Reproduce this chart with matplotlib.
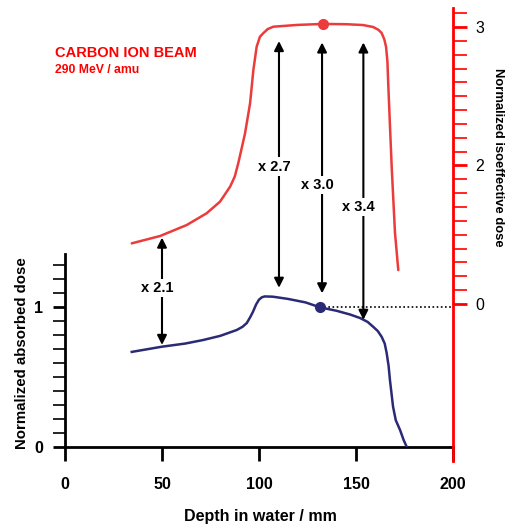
import numpy as np
import matplotlib
matplotlib.use('Agg')
import matplotlib.pyplot as plt
from matplotlib.ticker import FixedLocator

plt.rcParams['font.family'] = ['Liberation Sans', 'DejaVu Sans']

# absorbed dose (left axis)
depth_abs = [34.4, 49.8, 62.0, 71.1, 80.0, 88.5, 91.5, 93.7, 95.5, 96.9, 98.5, 100.0,
             101.5, 103.0, 107.2, 115.0, 124.0, 131.4, 140.0, 147.0, 152.1, 156.0,
             158.8, 161.2, 163.2, 164.8, 165.8, 166.8, 167.5, 169.1, 170.5, 172.7,
             174.5, 176.1]
dose_abs = [0.68, 0.717, 0.74, 0.765, 0.795, 0.837, 0.86, 0.887, 0.93, 0.968, 1.02, 1.055,
            1.072, 1.078, 1.076, 1.06, 1.035, 1.0, 0.975, 0.948, 0.923, 0.895,
            0.861, 0.83, 0.789, 0.74, 0.672, 0.58, 0.478, 0.287, 0.19, 0.12,
            0.05, 0.0]

# isoeffective dose (right axis, tick "0" sits at position 1)
depth_iso = [34.4, 49.0, 62.7, 73.0, 79.9, 85.1, 87.5, 89.3, 91.0, 92.8, 95.4, 97.1,
             98.8, 100.5, 102.2, 104.5, 107.4, 120.0, 133.0, 145.0, 153.6, 158.8,
             161.5, 163.2, 164.6, 165.5, 166.2, 166.6, 167.5, 168.4, 170.1, 171.8]
dose_iso = [1.438, 1.491, 1.570, 1.655, 1.739, 1.847, 1.92, 2.016, 2.12, 2.232, 2.449, 2.690,
            2.858, 2.93, 2.955, 2.985, 3.002, 3.015, 3.022, 3.02, 3.014, 3.0,
            2.98, 2.957, 2.91, 2.856, 2.75, 2.596, 2.29, 1.989, 1.513, 1.245]

# ratio arrows (left axis units)
arrow_x = [50.0, 110.3, 132.5, 153.8]
arrow_top = [1.50, 2.91, 2.90, 2.90]
arrow_bottom = [0.73, 1.14, 1.10, 0.91]
arrow_labels = ['x 2.1', 'x 2.7', 'x 3.0', 'x 3.4']
label_y = [1.14, 2.01, 1.88, 1.72]

red = '#ec3b3b'
blue = '#2b2a75'

fig = plt.figure(figsize=(5.07, 5.26), dpi=100)
ax = fig.add_axes([65 / 507, 1 - 446.7 / 526, 388 / 507, 438.7 / 526])
ax.set_xlim(0, 200)
ax.set_ylim(0, 3.147)

for s in ['top', 'right']:
    ax.spines[s].set_visible(False)
ax.spines['left'].set_bounds(0, 1.38)
ax.spines['left'].set_linewidth(2)
ax.spines['bottom'].set_linewidth(2)

ax.xaxis.set_major_locator(FixedLocator([0, 50, 100, 150, 200]))
ax.tick_params(axis='x', direction='out', length=10, width=2, pad=12, labelsize=11.5)
ax.yaxis.set_major_locator(FixedLocator([0, 1]))
ax.yaxis.set_minor_locator(FixedLocator([v / 10 for v in range(1, 14) if v != 10]))
ax.tick_params(axis='y', which='major', direction='out', length=9, width=2, pad=7, labelsize=11.5)
ax.tick_params(axis='y', which='minor', direction='out', length=9, width=1.2)
for lab in ax.get_xticklabels() + ax.get_yticklabels():
    lab.set_fontweight('bold')

ax2 = ax.twinx()
ax2.set_ylim(-0.030, 3.137)
for s in ['top', 'left', 'bottom']:
    ax2.spines[s].set_visible(False)
ax2.spines['right'].set_color('red')
ax2.spines['right'].set_linewidth(2)
ax2.spines['right'].set_bounds(-0.13, 3.137)
ax2.yaxis.set_major_locator(FixedLocator([1, 2, 3]))
ax2.set_yticklabels(['0', '2', '3'])
ax2.yaxis.set_minor_locator(FixedLocator([v / 10 for v in range(11, 32) if v not in (20, 30)]))
ax2.tick_params(axis='y', which='major', direction='out', length=10, width=2, color='red',
                pad=6, labelsize=11.5)
ax2.tick_params(axis='y', which='minor', direction='out', length=10, width=1.2, color='red')

ax2.plot(depth_iso, dose_iso, color=red, lw=1.8, solid_capstyle='round', solid_joinstyle='round')
ax2.plot([133.0], [3.022], 'o', color=red, ms=7)

ax.plot(depth_abs, dose_abs, color=blue, lw=1.8, zorder=3, solid_joinstyle='round')
ax.plot([131.4, 200], [1.0, 1.0], color='black', lw=1.2, ls=(0, (1, 1.5)), zorder=2)
ax.plot([131.4], [1.0], 'o', color=blue, ms=7, zorder=4)

for x, t, b, lab, ly in zip(arrow_x, arrow_top, arrow_bottom, arrow_labels, label_y):
    ax.annotate('', xy=(x, b), xytext=(x, t),
                arrowprops=dict(arrowstyle='<|-|>', color='black', lw=1.5,
                                mutation_scale=14, shrinkA=0, shrinkB=0), zorder=5)
    ax.text(x - 2.5, ly, lab, ha='center', va='center', fontsize=10.5, fontweight='bold',
            bbox=dict(facecolor='white', edgecolor='none', pad=1.5), zorder=6)

fig.text(55 / 507, 1 - 53 / 526, 'CARBON ION BEAM', color='red', fontsize=10.5,
         fontweight='bold', ha='left', va='center')
fig.text(55 / 507, 1 - 70 / 526, '290 MeV / amu', color='red', fontsize=8.8,
         fontweight='bold', ha='left', va='center')

fig.text(22 / 507, 1 - 353 / 526, 'Normalized absorbed dose', rotation=90,
         ha='center', va='center', fontsize=10.8, fontweight='bold')
fig.text(498 / 507, 1 - 157 / 526, 'Normalized isoeffective dose', rotation=270,
         ha='center', va='center', fontsize=9.4, fontweight='bold')
fig.text(260 / 507, 1 - 516 / 526, 'Depth in water / mm',
         ha='center', va='center', fontsize=11.5, fontweight='bold')

fig.savefig('out.png', dpi=100)
